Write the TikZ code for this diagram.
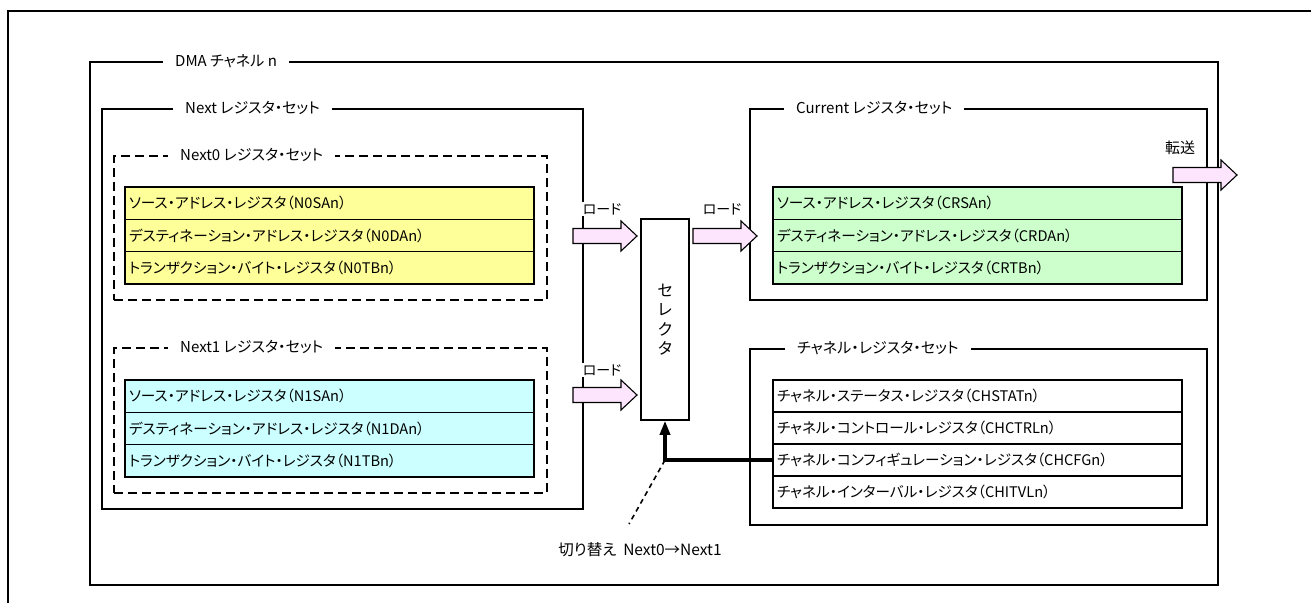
\documentclass[tikz,border=0pt]{standalone}
\usepackage{fontspec}
\setmainfont{Noto Sans CJK JP}[RawFeature={+palt}]
\usetikzlibrary{arrows.meta,positioning}
\definecolor{regyellow}{HTML}{FFFF99}
\definecolor{regcyan}{HTML}{CCFFFF}
\definecolor{reggreen}{HTML}{CCFFCC}
\definecolor{loadpink}{HTML}{FDE6FD}
\tikzset{
  frame/.style={draw,line width=1.5pt,inner sep=0pt,anchor=north west},
  dframe/.style={frame,line width=2.2pt,dash pattern=on 9pt off 5pt},
  settitle/.style={fill=white,inner xsep=12pt,inner ysep=1pt,anchor=west,font=\fontsize{15}{17}\selectfont},
  regrow/.style={draw,line width=1.4pt,minimum width=409pt,minimum height=32.3pt,
    text width=401pt,inner xsep=4pt,align=left,outer sep=0pt,font=\fontsize{14.6}{16}\selectfont},
  selbox/.style={draw,line width=1.5pt,minimum width=48pt,minimum height=201pt,align=center,
    font=\fontsize{16}{19.5}\selectfont},
  loadlabel/.style={fill=white,inner sep=1pt,font=\fontsize{14}{16}\selectfont},
  blockarrow/.pic={
    \draw[line width=1.1pt,fill=loadpink,line join=miter]
      (0,-7.5) -- (48,-7.5) -- (48,-15) -- (64,0) -- (48,15) -- (48,7.5) -- (0,7.5) -- cycle;
  },
  every picture/.style={line join=miter}
}

\begin{document}
\begin{tikzpicture}[x=1pt,y=-1pt]
  \useasboundingbox (0,0) rectangle (1311,603);
  % page frame
  \coordinate (pgtr) at (1311,11);
  \coordinate (pgtl) at (8,11);
  \coordinate (pgbl) at (8,603);
  \draw[line width=2pt] (pgtr) -- (pgtl) -- (pgbl);

  % DMA channel
  \node[frame,minimum width=1128pt,minimum height=523pt] (dma) at (89,61) {};
  \node[settitle] (dmatitle) at (163,61) {DMA チャネル n};

  % Next register set
  \node[frame,minimum width=481pt,minimum height=400pt] (next) at (101,108) {};
  \node[settitle] (nexttitle) at (173,108) {Next レジスタ・セット};

  \node[dframe,minimum width=433pt,minimum height=144pt] (next0) at (113,155) {};
  \node[settitle] (next0title) at (168,155) {Next0 レジスタ・セット};
  \node[regrow,fill=regyellow,anchor=north west] (n0sa) at (125,187) {ソース・アドレス・レジスタ（N0SAn）};
  \node[regrow,fill=regyellow,below=0pt of n0sa] (n0da) {デスティネーション・アドレス・レジスタ（N0DAn）};
  \node[regrow,fill=regyellow,below=0pt of n0da] (n0tb) {トランザクション・バイト・レジスタ（N0TBn）};

  \node[dframe,minimum width=433pt,minimum height=145pt] (next1) at (113,347) {};
  \node[settitle] (next1title) at (168,347) {Next1 レジスタ・セット};
  \node[regrow,fill=regcyan,anchor=north west] (n1sa) at (125,380) {ソース・アドレス・レジスタ（N1SAn）};
  \node[regrow,fill=regcyan,below=0pt of n1sa] (n1da) {デスティネーション・アドレス・レジスタ（N1DAn）};
  \node[regrow,fill=regcyan,below=0pt of n1da] (n1tb) {トランザクション・バイト・レジスタ（N1TBn）};

  % Current register set
  \node[frame,minimum width=457pt,minimum height=191pt] (cur) at (749,108) {};
  \node[settitle] (curtitle) at (784,108) {Current レジスタ・セット};
  \node[regrow,fill=reggreen,anchor=north west] (crsa) at (773,187) {ソース・アドレス・レジスタ（CRSAn）};
  \node[regrow,fill=reggreen,below=0pt of crsa] (crda) {デスティネーション・アドレス・レジスタ（CRDAn）};
  \node[regrow,fill=reggreen,below=0pt of crda] (crtb) {トランザクション・バイト・レジスタ（CRTBn）};

  % channel register set
  \node[frame,minimum width=457pt,minimum height=176pt] (chan) at (749,348) {};
  \node[settitle] (chantitle) at (785,348) {チャネル・レジスタ・セット};
  \node[regrow,fill=white,minimum height=32pt,anchor=north west] (chstat) at (773,380) {チャネル・ステータス・レジスタ（CHSTATn）};
  \node[regrow,fill=white,minimum height=32pt,below=0pt of chstat] (chctrl) {チャネル・コントロール・レジスタ（CHCTRLn）};
  \node[regrow,fill=white,minimum height=32pt,below=0pt of chctrl] (chcfg) {チャネル・コンフィギュレーション・レジスタ（CHCFGn）};
  \node[regrow,fill=white,minimum height=32pt,below=0pt of chcfg] (chitvl) {チャネル・インターバル・レジスタ（CHITVLn）};

  % selector
  \node[selbox] (sel) at (665,319.5) {セ\\レ\\ク\\タ};

  % load / transfer arrows
  \pic at (573,236) {blockarrow};
  \pic at (693,236) {blockarrow};
  \pic at (573,395) {blockarrow};
  \pic at (1173,175) {blockarrow};
  \node[loadlabel] (load0) at (602,209) {ロード};
  \node[loadlabel] (loadcur) at (722,209) {ロード};
  \node[loadlabel] (load1) at (602,370) {ロード};
  \node[loadlabel,fill=none,font=\fontsize{15}{17}\selectfont] (xfer) at (1180,148) {転送};

  % switch signal
  \coordinate (swcorner) at (chcfg.west -| sel.south);
  \draw[line width=3.2pt,-{Triangle[length=14pt,width=10pt]}] (chcfg.west) -- (swcorner) -- (sel.south);
  \node[font=\fontsize{15.5}{17}\selectfont] (swlabel) at (640,550) {切り替え\ \ Next0→Next1};
  \coordinate (swend) at (629,524);
  \draw[line width=1.6pt,dash pattern=on 5pt off 4pt] (swcorner) -- (swend);
\end{tikzpicture}
\end{document}
